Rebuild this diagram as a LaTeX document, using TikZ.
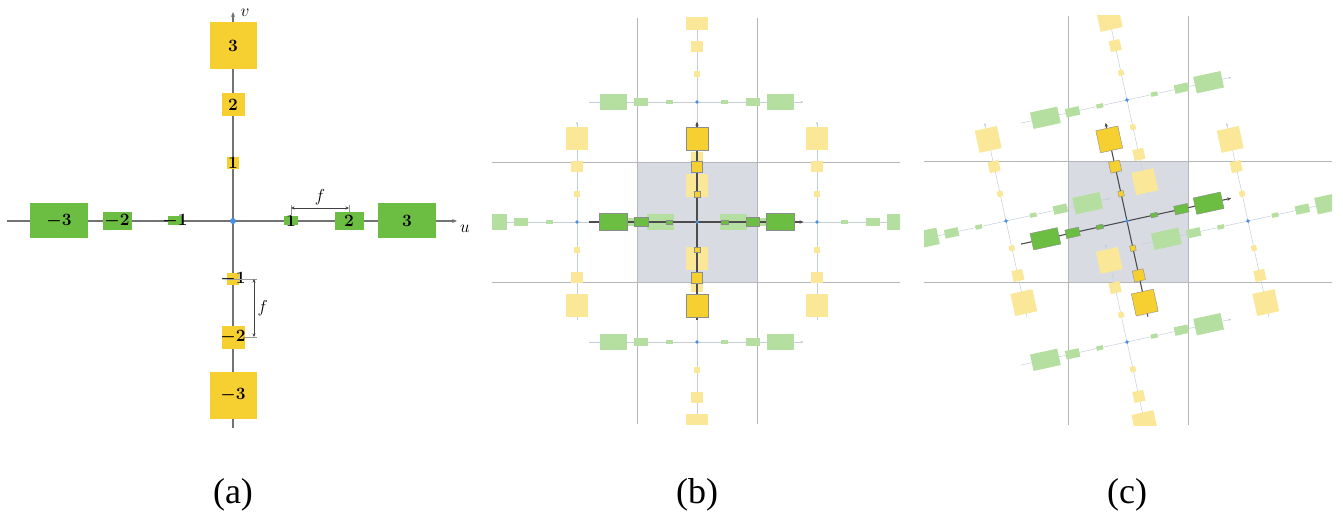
\documentclass[tikz,border=0pt]{standalone}
\usepackage{fontspec}
\newfontfamily\captionfont{Liberation Serif}
\usetikzlibrary{arrows.meta, positioning, calc}

\definecolor{psfgreen}{RGB}{108,190,66}
\definecolor{psfyellow}{RGB}{245,208,48}
\definecolor{psfblue}{RGB}{74,144,226}
\definecolor{cellgray}{RGB}{216,220,226}
\definecolor{gridgray}{RGB}{180,182,186}
\definecolor{axisgray}{RGB}{115,115,115}
\definecolor{lightaxis}{RGB}{196,205,218}

\newcommand\psflabelfont{\fontsize{18}{18}\selectfont\boldmath}

\tikzset{
    psf axis/.style={draw=black!70, line width=1.1pt, -{Stealth[length=4pt,width=3.5pt]}},
    psf u/.style={fill=psfgreen, draw=black!45, line width=0.4pt},
    psf v/.style={fill=psfyellow, draw=black!45, line width=0.4pt},
    % one point spread: two arms of boxes
    pics/psf/.style={code={
        \draw[psf axis] (-226,0) -- (222,0);
        \draw[psf axis] (0,-204) -- (0,209);
        \foreach \k/\w/\h in {1/14/9, 2/29/18, 3/58/35}{
            \path[psf u] (\k*58-\w/2,-\h/2) -- ++(\w,0) -- ++(0,\h) -- ++(-\w,0) -- cycle;
            \path[psf u] (-\k*58-\w/2,-\h/2) -- ++(\w,0) -- ++(0,\h) -- ++(-\w,0) -- cycle;
        }
        \foreach \k/\s in {1/11.5, 2/23, 3/47}{
            \path[psf v] (-\s/2,\k*58-\s/2) -- ++(\s,0) -- ++(0,\s) -- ++(-\s,0) -- cycle;
            \path[psf v] (-\s/2,-\k*58-\s/2) -- ++(\s,0) -- ++(0,\s) -- ++(-\s,0) -- cycle;
        }
        \fill[psfblue] (0,0) circle (4);
    }},
}

\begin{document}
\begin{tikzpicture}[x=1pt, y=1pt,
    ubox/.style 2 args={rectangle, fill=psfgreen, inner sep=0pt,
                        minimum width=#1pt, minimum height=#2pt},
    vbox/.style={rectangle, fill=psfyellow, inner sep=0pt, minimum size=#1pt},
    boxnum/.style={font=\psflabelfont, inner sep=0pt},
    axis line/.style={draw=axisgray, line width=1.1pt},
    axis label/.style={font=\fontsize{16}{16}\selectfont},
    dim line/.style={draw=black!40, line width=0.4pt},
    dim arrow/.style={draw=black!75, line width=0.5pt,
                      {Stealth[length=3.5pt,width=3pt]}-{Stealth[length=3.5pt,width=3pt]}},
    cell/.style={fill=cellgray, draw=gridgray, line width=0.6pt},
    grid line/.style={draw=gridgray, line width=0.6pt},
    psf light/.style={
        psf axis/.style={draw=lightaxis, line width=0.5pt, -{Stealth[length=3pt,width=2.5pt]}},
        psf u/.style={fill=psfgreen!50},
        psf v/.style={fill=psfyellow!50}},
    caption/.style={font=\captionfont\fontsize{36}{40}\selectfont, anchor=base},
]
\useasboundingbox (0,0) rectangle (1343,520);

% ---------------- (a) ----------------
\coordinate (ul) at (7,299);
\coordinate (ur) at (457,299);
\coordinate (vb) at (233,92);
\coordinate (vt) at (233,508);
\draw[axis line, -{Stealth[length=5pt,width=4pt]}] (ul) -- (ur);
\draw[axis line, -{Stealth[length=5pt,width=4pt]}] (vb) -- (vt);
\node[axis label] (ulab) at (465,291) {$u$};
\node[axis label] (vlab) at (245,507) {$v$};

% u arm
\node[ubox={58}{35}, label={[boxnum]center:$3$}] (u3) at (407,299) {};
\node[ubox={29}{18}, label={[boxnum]center:$2$}] (u2) at (349,299) {};
\node[ubox={14}{9},  label={[boxnum]center:$1$}] (u1) at (291,299) {};
\node[ubox={14}{9},  label={[boxnum]center:$-1$}] (um1) at (175,299) {};
\node[ubox={29}{18}, label={[boxnum]center:$-2$}] (um2) at (117,299) {};
\node[ubox={58}{35}, label={[boxnum]center:$-3$}] (um3) at (59,299) {};

% v arm
\node[vbox=47,   label={[boxnum]center:$3$}] (v3) at (233,474) {};
\node[vbox=23,   label={[boxnum]center:$2$}] (v2) at (233,415) {};
\node[vbox=11.5, label={[boxnum]center:$1$}] (v1) at (233,357) {};
\node[vbox=11.5, label={[boxnum]center:$-1$}] (vm1) at (233,241) {};
\node[vbox=23,   label={[boxnum]center:$-2$}] (vm2) at (233,183) {};
\node[vbox=47,   label={[boxnum]center:$-3$}] (vm3) at (233,125) {};

\node[circle, fill=psfblue, inner sep=0pt, minimum size=6pt] (oa) at (233,299) {};

% spacing f
\coordinate (fh0) at (291,312);
\coordinate (fh1) at (349,312);
\draw[dim line] (u1.north) -- ($(fh0)+(0,3)$);
\draw[dim line] (u2.north) -- ($(fh1)+(0,3)$);
\draw[dim arrow] (fh0) -- (fh1) node[midway, above, axis label] {$f$};
\coordinate (fv0) at (254,241);
\coordinate (fv1) at (254,183);
\draw[dim line] (vm1.west) -- ($(fv0)+(3,0)$);
\draw[dim line] (vm2.east) -- ($(fv1)+(3,0)$);
\draw[dim arrow] (fv0) -- (fv1) node[midway, right, axis label] {$f$};

\node[caption] (capa) at (233,17) {(a)};

% ---------------- (b) ----------------
\begin{scope}
\clip (492,96) rectangle (900,502);
\path[cell] (637,238) rectangle (757,358);
\foreach \gx in {637,757}{\draw[grid line] (\gx,96) -- (\gx,502);}
\foreach \gy in {238,358}{\draw[grid line] (492,\gy) -- (900,\gy);}
\foreach \dx/\dy in {-120/0, 120/0, 0/120, 0/-120}{
    \pic[psf light, scale=0.48] at ($(697,298)+(\dx,\dy)$) {psf};
}
\pic[scale=0.48] (pb) at (697,298) {psf};
\end{scope}
\node[caption] (capb) at (697,17) {(b)};

% ---------------- (c) ----------------
\begin{scope}
\clip (924,95) rectangle (1332,504);
\path[cell] (1068,238) rectangle (1188,359);
\foreach \gx in {1068,1188}{\draw[grid line] (\gx,95) -- (\gx,504);}
\foreach \gy in {238,359}{\draw[grid line] (924,\gy) -- (1332,\gy);}
\foreach \dx/\dy in {-121/0, 121/0, 0/121, 0/-121}{
    \pic[psf light, scale=0.48, rotate=12.3] at ($(1127,299)+(\dx,\dy)$) {psf};
}
\pic[scale=0.48, rotate=12.3] (pc) at (1127,299) {psf};
\end{scope}
\node[caption] (capc) at (1127,17) {(c)};

\end{tikzpicture}
\end{document}
